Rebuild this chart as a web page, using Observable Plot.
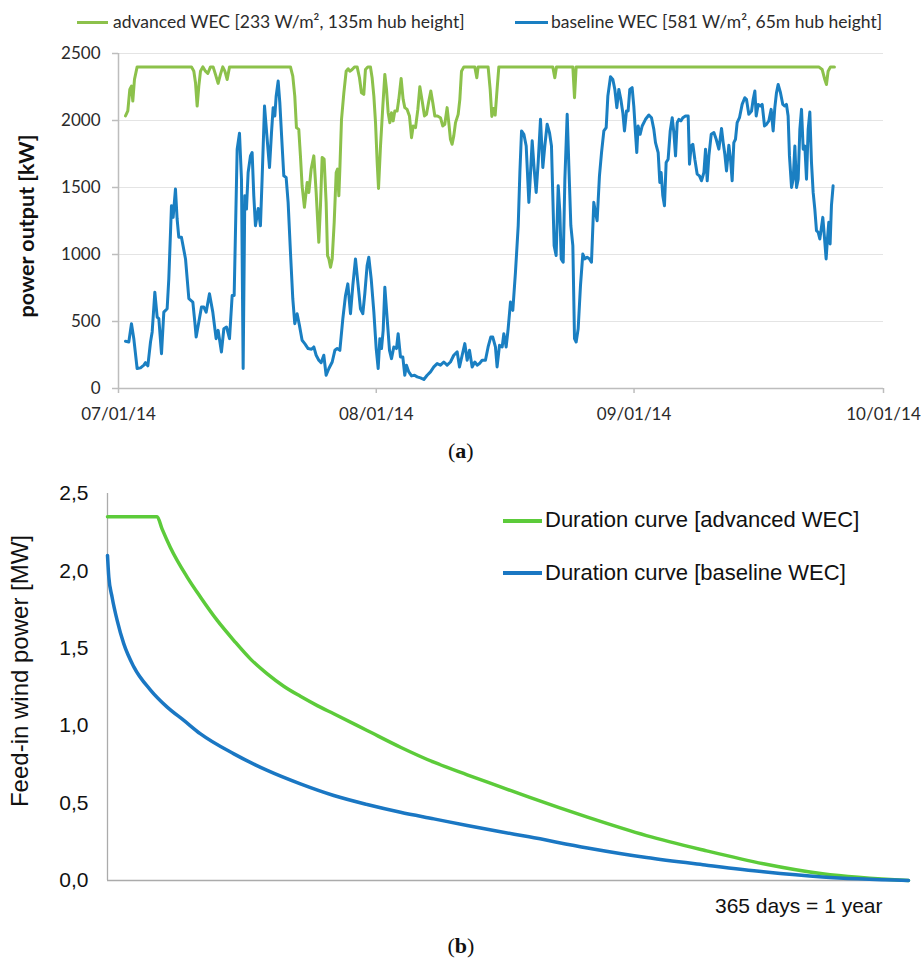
<!DOCTYPE html>
<html>
<head>
<meta charset="utf-8">
<script src="https://cdn.jsdelivr.net/npm/d3@7"></script>
<script src="https://cdn.jsdelivr.net/npm/@observablehq/plot@0.6"></script>
<style>
  body { margin: 0; background: #fff; }
  #page { position: relative; width: 921px; height: 967px; overflow: hidden; background: #fff; }
  .abs { position: absolute; }
  .legA { font-family: Lato, sans-serif; font-size: 17.5px; color: #2b2b2b; white-space: nowrap; line-height: 1; }
  .legB { font-family: "Liberation Sans", Arial, sans-serif; font-size: 22px; color: #111; white-space: nowrap; line-height: 1; }
  .cap { font-family: "Liberation Serif", "Times New Roman", serif; font-size: 22px; color: #111; line-height: 1; white-space: nowrap; }
  .cap b { font-weight: bold; }
</style>
</head>
<body>
<div id="page">
  <div id="chartA" class="abs" style="left:0;top:40px;"></div>
  <div id="chartB" class="abs" style="left:0;top:470px;"></div>
</div>
<script>
// ---------- (a) power output, July–September 2014 ----------
// x: days after 1 July 2014, y: kW
const seriesNamesA = ["advanced WEC [233 W/m², 135m hub height]", "baseline WEC [581 W/m², 65m hub height]"];
const startDateA = "2014-07-01";
const monthTicksA = ["2014-07-01", "2014-08-01", "2014-09-01", "2014-10-01"];
const yTicksA = [0, 500, 1000, 1500, 2000, 2500];
const yTitleA = "power output [kW]";

const advancedDay = [0.84,1.12,1.36,1.56,1.72,1.92,2.24,8.78,9.06,9.26,9.46,9.66,9.86,10.14,10.46,10.74,11.06,11.38,11.66,11.98,12.26,12.54,12.79,13.07,13.35,20.68,20.96,21.2,21.4,21.68,21.88,22.08,22.36,22.56,22.69,22.89,23.17,23.49,23.77,24.09,24.29,24.49,24.73,24.97,25.14,25.3,25.5,25.7,25.94,26.18,26.34,26.5,26.62,26.82,27.1,27.38,27.62,27.82,28.1,28.38,28.7,28.98,29.22,29.5,29.7,29.98,30.3,30.5,30.71,30.91,31.11,31.27,31.51,31.79,32.03,32.23,32.43,32.63,32.83,33.03,33.23,33.51,33.71,33.99,34.23,34.43,34.71,34.99,35.24,35.44,35.72,36,36.24,36.52,36.8,37.04,37.32,37.56,37.8,38.04,38.36,38.72,39,39.24,39.52,39.72,39.92,40.12,40.32,40.53,40.85,41.05,41.25,41.53,42.85,43.09,43.25,44.45,44.7,44.9,45.1,45.3,45.55,45.74,52.23,52.47,52.67,54.64,54.84,55.04,84.22,84.62,84.94,85.14,85.34,85.62,86.1];
const advancedKW = [2034,2071,2232,2257,2145,2306,2400,2400,2368,2282,2108,2257,2368,2400,2368,2351,2400,2400,2344,2277,2344,2400,2368,2306,2400,2400,2331,2182,1947,1934,1736,1513,1352,1463,1538,1463,1637,1736,1463,1091,1364,1724,1711,1389,992,967,905,967,1240,1612,1637,1438,1637,2009,2207,2368,2386,2368,2381,2400,2400,2319,2207,2195,2381,2400,2400,2319,2182,1984,1686,1493,1810,2108,2344,2232,2058,1984,2058,1997,2071,2071,2158,2314,2158,2096,2083,2034,1872,1959,1947,2083,2252,2145,2034,2046,2145,2220,2133,2034,2034,2021,1959,1972,2096,1984,1860,1823,1885,1984,2046,2158,2368,2400,2400,2319,2400,2400,2230,2030,2090,2040,2250,2400,2400,2319,2400,2400,2170,2400,2400,2381,2306,2269,2368,2400,2400];

const baselineDay = [0.84,1.24,1.56,1.84,2.24,2.65,3.05,3.25,3.53,3.85,4.05,4.37,4.65,4.85,5.17,5.45,5.85,6.05,6.37,6.57,6.85,7.05,7.25,7.57,8.06,8.46,8.94,9.18,9.34,9.66,9.98,10.26,10.54,10.94,11.34,11.74,11.98,12.38,12.67,12.99,13.35,13.67,13.91,14.27,14.55,14.79,14.99,15.19,15.39,15.59,15.87,16.07,16.27,16.47,16.8,17.07,17.27,17.56,17.88,18.16,18.4,18.6,18.8,18.96,19.2,19.4,19.68,19.88,20.16,20.4,20.68,20.96,21.2,21.48,21.76,22.08,22.4,22.8,23.21,23.49,23.77,24.09,24.37,24.69,24.97,25.3,25.7,26.02,26.3,26.62,26.98,27.3,27.58,27.9,28.18,28.5,28.82,29.1,29.38,29.62,29.9,30.1,30.39,30.71,30.99,31.23,31.43,31.63,31.83,32.03,32.31,32.59,32.83,33.11,33.43,33.63,33.91,34.19,34.43,34.63,34.91,35.24,35.6,35.92,36.32,36.72,37.12,37.52,37.92,38.32,38.72,39.12,39.52,39.92,40.32,40.73,41.01,41.33,41.65,41.93,42.21,42.53,42.85,43.13,43.41,43.73,44.13,44.45,44.77,45.01,45.33,45.53,45.82,46.14,46.34,46.62,46.86,47.14,47.42,47.74,48.07,48.27,48.47,48.75,49.03,49.35,49.51,49.75,49.99,50.23,50.47,50.75,51.03,51.27,51.55,51.83,52.07,52.23,52.39,52.63,52.88,53.08,53.24,53.48,53.68,53.96,54.16,54.4,54.64,54.84,55.04,55.28,55.56,55.84,56.08,56.36,56.64,56.88,57.16,57.36,57.56,57.84,58.09,58.37,58.65,58.85,59.17,59.45,59.69,59.93,60.17,60.41,60.65,60.85,61.09,61.29,61.49,61.77,61.97,62.17,62.33,62.49,62.73,62.98,63.38,63.78,64.1,64.38,64.58,64.9,65.1,65.26,65.46,65.66,65.86,66.1,66.35,66.59,66.79,66.99,67.19,67.39,67.63,67.87,68.19,68.51,68.67,68.87,69.07,69.31,69.59,69.87,70.11,70.4,70.6,70.8,71,71.28,71.6,71.88,72.2,72.52,72.72,72.92,73.12,73.4,73.6,73.8,74,74.2,74.4,74.68,75,75.32,75.52,75.8,76.13,76.33,76.53,76.69,76.93,77.21,77.41,77.69,77.93,78.21,78.49,78.73,78.93,79.13,79.33,79.61,79.89,80.13,80.33,80.53,80.69,80.94,81.14,81.34,81.54,81.74,81.94,82.14,82.34,82.54,82.74,82.94,83.14,83.34,83.54,83.74,83.94,84.14,84.34,84.54,84.7,84.9,85.1,85.26,85.42,85.58,85.74,85.94];
const baselineKW = [352,347,484,372,149,154,174,193,169,347,422,719,533,521,260,570,595,819,1364,1277,1488,1265,1129,1129,967,670,645,496,384,496,608,608,570,707,570,372,434,273,446,459,372,694,694,1786,1905,1562,149,1438,1339,1612,1736,1761,1438,1215,1344,1215,1562,2108,1860,1649,1910,2096,2034,2182,2294,2133,1810,1587,1575,1389,1017,670,484,558,471,360,335,298,293,310,248,211,193,248,99,149,198,285,298,285,521,694,781,558,769,967,769,595,558,707,918,980,818,570,298,149,372,298,434,756,521,285,223,310,298,409,236,236,99,174,124,94,99,87,79,67,99,124,161,186,174,198,174,198,248,273,161,248,335,211,285,161,198,174,186,211,211,310,384,384,310,161,322,310,409,310,446,645,583,868,1215,1612,1922,1897,1810,1389,1562,1848,1637,1463,1686,2009,1649,1810,1972,1910,1810,1438,1066,992,1513,1314,967,942,1562,2046,1662,1215,1066,372,347,446,769,1004,967,980,967,942,1389,1314,1252,1587,1761,1922,1947,2182,2326,2306,2232,2096,2232,2158,2058,1922,2071,2071,2232,2245,2108,1910,1761,1959,1897,1959,2009,2041,2021,1934,1835,1761,1538,1612,1438,1364,1686,1711,1922,2021,1910,1736,1984,2009,1997,2021,2034,2034,1674,1810,1823,1711,1600,1587,1550,1612,1786,1550,1736,1897,1910,1860,1786,1940,1835,1748,1624,1815,1711,1550,1835,1860,1984,2021,2120,2170,2158,2046,2071,2158,2220,2034,2120,2108,2120,1959,1972,1997,2083,1922,2096,2207,2269,2207,2120,2108,2120,2034,1736,1500,1562,1810,1500,1562,1934,2083,1786,1810,1562,1934,2063,1686,1463,1339,1178,1166,1116,1203,1277,1128,967,1116,1240,1079,1364,1513];

// ---------- (b) annual duration curves ----------
// x: days of the year the output is reached or exceeded, y: MW
const seriesNamesB = ["Duration curve [advanced WEC]", "Duration curve [baseline WEC]"];
const yTicksB = [0, 0.5, 1, 1.5, 2, 2.5];
const xNoteB = "365 days = 1 year";
const yTitleB = "Feed-in wind power [MW]";

const advDurDay = [0,22.6,24.9,28.7,36.3,42.4,50,57.6,65.2,72.8,80.3,87.9,95.6,103.1,118.3,133.5,148.7,163.9,179.1,192.1,218.7,245.6,272.3,298.9,325.8,365];
const advDurMW  = [2.35,2.35,2.27,2.15,1.96,1.83,1.68,1.55,1.43,1.335,1.255,1.19,1.13,1.077,0.969,0.861,0.764,0.683,0.605,0.538,0.409,0.29,0.194,0.108,0.043,0.0];
const baseDurDay = [0,0.6,2.1,4.4,7.4,12,19.6,27.2,34.8,42.4,57.6,72.8,87.9,103.1,118.3,133.5,148.7,163.9,179.1,192.1,218.7,245.6,272.3,298.9,325.8,365];
const baseDurMW  = [2.10,1.96,1.83,1.68,1.53,1.38,1.23,1.12,1.034,0.947,0.818,0.711,0.624,0.549,0.491,0.441,0.398,0.355,0.315,0.282,0.21,0.148,0.1,0.056,0.022,0.0];

const colorsA = ["#8cc14b", "#1a7fc2"];
const colorsB = ["#5ccb3a", "#1a77c3"];

// ----- chart (a) -----
const t0 = Date.parse(startDateA + "T00:00:00Z");
const toDate = d => new Date(t0 + d * 864e5);
const advRows = advancedDay.map((d, i) => ({t: toDate(d), kw: advancedKW[i]}));
const baseRows = baselineDay.map((d, i) => ({t: toDate(d), kw: baselineKW[i]}));
const monthDates = monthTicksA.map(s => new Date(s + "T00:00:00Z"));
const fmtMonth = d3.utcFormat("%m/%d/%y");

const chartA = Plot.plot({
  width: 921, height: 385,
  marginTop: 13, marginBottom: 37, marginLeft: 118, marginRight: 38,
  style: {fontFamily: "Lato, sans-serif", fontSize: "17px", color: "#333", background: "transparent", overflow: "visible"},
  x: {type: "utc", domain: [monthDates[0], monthDates[monthDates.length - 1]]},
  y: {domain: [0, 2500]},
  marks: [
    Plot.gridY(yTicksA.slice(1), {stroke: "#e4e4e4", strokeOpacity: 1, strokeWidth: 1}),
    Plot.ruleX([monthDates[0]], {stroke: "#bdbdbd", strokeWidth: 1.5}),
    Plot.ruleY([0], {stroke: "#bdbdbd", strokeWidth: 1.5}),
    Plot.axisY(yTicksA, {tickSize: 6, tickPadding: 12, stroke: "#bdbdbd", strokeWidth: 1.5, fill: "#2a2a2a", tickFormat: d3.format("d"), label: null}),
    Plot.axisX(monthDates, {tickSize: 5, tickPadding: 14, stroke: "#bdbdbd", strokeWidth: 1.5, fill: "#2a2a2a", tickFormat: fmtMonth, label: null}),
    Plot.line(advRows, {x: "t", y: "kw", stroke: colorsA[0], strokeWidth: 3}),
    Plot.line(baseRows, {x: "t", y: "kw", stroke: colorsA[1], strokeWidth: 3}),
    Plot.text([yTitleA], {frameAnchor: "left", textAnchor: "middle", lineAnchor: "middle", rotate: -90, dx: -91, dy: 5, fontWeight: "bold", fontSize: 21.5, fill: "#111"})
  ]
});
document.getElementById("chartA").append(chartA);

// ----- chart (b) -----
const advDurRows = advDurDay.map((d, i) => ({d, mw: advDurMW[i]}));
const baseDurRows = baseDurDay.map((d, i) => ({d, mw: baseDurMW[i]}));

const chartB = Plot.plot({
  width: 921, height: 460,
  marginTop: 23, marginBottom: 50, marginLeft: 107, marginRight: 13,
  style: {fontFamily: "'Liberation Sans', Arial, sans-serif", fontSize: "21px", color: "#111", background: "transparent", overflow: "visible"},
  x: {domain: [0, 365], axis: null},
  y: {domain: [0, 2.5]},
  marks: [
    Plot.ruleX([0], {stroke: "#ababab", strokeWidth: 1.3}),
    Plot.ruleY([0], {stroke: "#ababab", strokeWidth: 1.3}),
    Plot.axisY(yTicksB, {tickSize: 0, tickPadding: 19, fill: "#111", tickFormat: v => v.toFixed(1).replace(".", ","), label: null}),
    Plot.line(advDurRows, {x: "d", y: "mw", stroke: colorsB[0], strokeWidth: 3.5, curve: "monotone-x"}),
    Plot.line(baseDurRows, {x: "d", y: "mw", stroke: colorsB[1], strokeWidth: 3.5, curve: "monotone-x"}),
    Plot.text([xNoteB], {frameAnchor: "bottom-right", textAnchor: "end", lineAnchor: "top", dx: -26, dy: 18, fill: "#111"}),
    Plot.text([yTitleB], {frameAnchor: "left", textAnchor: "middle", lineAnchor: "middle", rotate: -90, dx: -87, dy: -16, fontSize: 24, fill: "#111"})
  ]
});
document.getElementById("chartB").append(chartB);

// ----- legends and panel captions -----
const page = document.getElementById("page");
function addSwatch(x, y, w, h, color) {
  const s = document.createElement("div");
  s.className = "abs";
  Object.assign(s.style, {left: x + "px", top: (y - h / 2) + "px", width: w + "px", height: h + "px", background: color});
  page.append(s);
}
function addText(x, top, cls, html) {
  const t = document.createElement("div");
  t.className = "abs " + cls;
  Object.assign(t.style, {left: x + "px", top: top + "px"});
  t.innerHTML = html;
  page.append(t);
  return t;
}
addSwatch(77, 22.5, 31, 3, colorsA[0]);
addText(113, 13, "legA", seriesNamesA[0]);
addSwatch(515, 22.5, 33, 3, colorsA[1]);
addText(551, 13, "legA", seriesNamesA[1]);

addSwatch(503, 520.5, 39, 4, colorsB[0]);
addText(545, 509, "legB", seriesNamesB[0]);
addSwatch(503, 572.5, 39, 4, colorsB[1]);
addText(545, 562, "legB", seriesNamesB[1]);

const capA = addText(0, 440, "cap", "(<b>a</b>)");
capA.style.left = (461 - capA.offsetWidth / 2) + "px";
const capB = addText(0, 935, "cap", "(<b>b</b>)");
capB.style.left = (461 - capB.offsetWidth / 2) + "px";
</script>
</body>
</html>
